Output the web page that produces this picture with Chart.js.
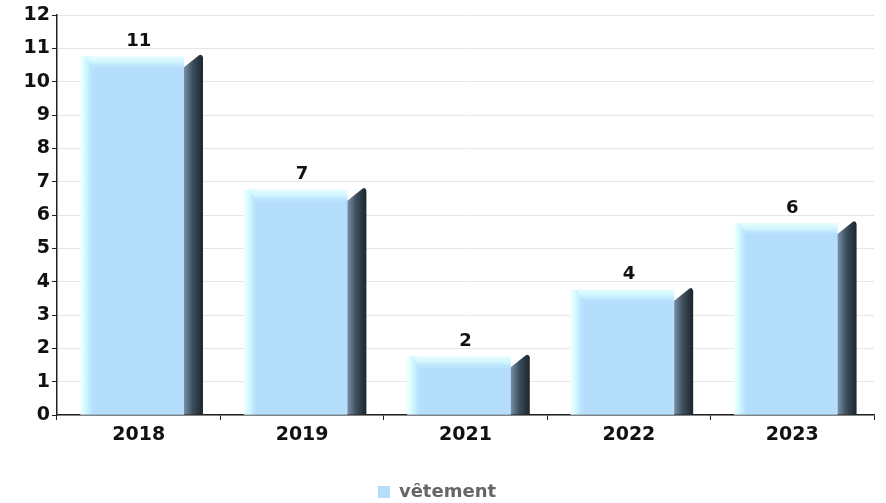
<!DOCTYPE html>
<html>
<head>
<meta charset="utf-8">
<script src="https://cdn.jsdelivr.net/npm/chart.js@4"></script>
<style>
  html, body { margin: 0; padding: 0; background: #fff; }
  #wrap { width: 886px; height: 503px; }
</style>
</head>
<body>
<div id="wrap"><canvas id="myChart" width="886" height="503"></canvas></div>
<script>
var years = ['2018', '2019', '2021', '2022', '2023'];
var vetement = [11, 7, 2, 4, 6];
var seriesName = 'vêtement';
var yMax = 12;

var frontColor = '#b4defc';

// paints the pseudo 3D bars on top of the (transparent) chart.js bars
var bars3d = {
  id: 'bars3d',
  afterDatasetsDraw: function(chart) {
    var c = chart.ctx;
    var meta = chart.getDatasetMeta(0);
    meta.data.forEach(function(bar, i) {
      var w = bar.width;
      var L = bar.x - w / 2 + 3;
      var R = L + w;
      var base = bar.base;
      var y = bar.y;
      var tip = y + 6, glowTop = y + 8, frontTop = y + 19;
      var sideL = R - 19;

      c.save();
      // glow block (left + top)
      c.fillStyle = '#dcfcff';
      c.fillRect(L, glowTop, sideL - L, base - glowTop);
      var gl = c.createLinearGradient(L, 0, L + 12, 0);
      gl.addColorStop(0, '#f4ffff');
      gl.addColorStop(0.4, '#d2fbff');
      gl.addColorStop(1, frontColor);
      c.fillStyle = gl;
      c.fillRect(L, glowTop, 12, base - glowTop);
      var gt = c.createLinearGradient(0, glowTop, 0, frontTop);
      gt.addColorStop(0, '#e8feff');
      gt.addColorStop(0.5, '#d0f6ff');
      gt.addColorStop(1, frontColor);
      c.fillStyle = gt;
      c.beginPath();
      c.moveTo(L + 6, glowTop);
      c.lineTo(sideL, glowTop);
      c.lineTo(sideL, frontTop);
      c.lineTo(L + 12, frontTop);
      c.closePath();
      c.fill();
      // front face
      c.fillStyle = frontColor;
      c.fillRect(L + 12, frontTop, sideL - L - 12, base - frontTop);
      // dark side
      var gs = c.createLinearGradient(sideL, 0, R, 0);
      gs.addColorStop(0, '#7890a6');
      gs.addColorStop(0.45, '#3d4f5e');
      gs.addColorStop(1, '#1b252d');
      c.fillStyle = gs;
      c.beginPath();
      c.moveTo(sideL, base);
      c.lineTo(sideL, frontTop);
      c.lineTo(R - 4, tip + 1);
      c.quadraticCurveTo(R - 1, tip - 1, R, tip + 3);
      c.lineTo(R, base);
      c.closePath();
      c.fill();
      // value label
      c.fillStyle = '#111';
      c.font = 'bold 18px "DejaVu Sans"';
      c.textAlign = 'center';
      c.textBaseline = 'alphabetic';
      c.fillText(String(vetement[i]), bar.x, y - 2.5);
      c.restore();
    });
  }
};

var ctx = document.getElementById('myChart').getContext('2d');
var myChart = new Chart(ctx, {
  type: 'bar',
  data: {
    labels: years,
    datasets: [{
      label: seriesName,
      data: vetement,
      backgroundColor: 'rgba(0,0,0,0)',
      borderWidth: 0,
      barPercentage: 0.75,
      categoryPercentage: 1.0
    }]
  },
  plugins: [bars3d],
  options: {
    responsive: false,
    animation: false,
    layout: { padding: { top: 15, right: 12, left: 0, bottom: -8 } },
    plugins: {
      tooltip: { enabled: false },
      legend: {
        position: 'bottom',
        labels: {
          boxWidth: 12,
          boxHeight: 12,
          padding: 0,
          color: '#666',
          font: { family: 'DejaVu Sans', weight: 'bold', size: 18 },
          generateLabels: function(chart) {
            return [{
              text: seriesName,
              fillStyle: frontColor,
              strokeStyle: frontColor,
              lineWidth: 0,
              fontColor: '#666',
              datasetIndex: 0
            }];
          }
        }
      }
    },
    scales: {
      y: {
        min: 0,
        max: yMax,
        ticks: {
          stepSize: 1,
          color: '#111',
          padding: 2,
          font: { family: 'DejaVu Sans', weight: 'bold', size: 19 }
        },
        grid: {
          color: '#e6e6e6',
          tickColor: '#222',
          tickLength: 5,
          lineWidth: 1
        },
        border: { color: '#222', width: 1.5 },
        afterFit: function(scale) { scale.width = 57; }
      },
      x: {
        ticks: {
          color: '#111',
          padding: 4,
          font: { family: 'DejaVu Sans', weight: 'bold', size: 19 }
        },
        grid: {
          drawOnChartArea: false,
          tickColor: '#222',
          tickLength: 5
        },
        border: { color: '#222', width: 1.5 },
        afterFit: function(scale) { scale.height = 68; }
      }
    }
  }
});
</script>
</body>
</html>
